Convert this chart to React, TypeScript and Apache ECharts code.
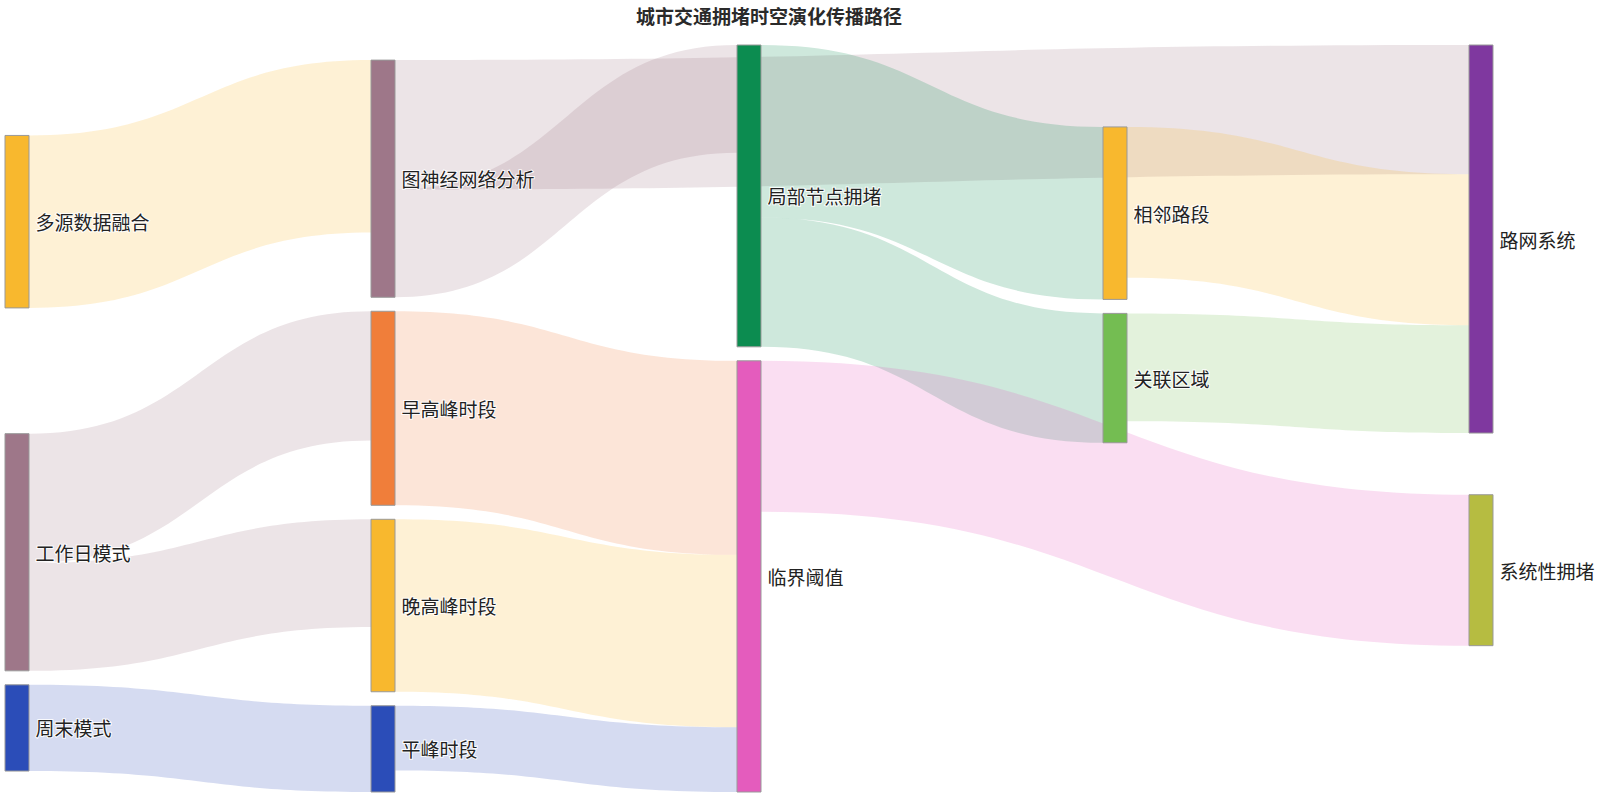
import React, { useEffect, useRef } from "react";
import * as echarts from "echarts";

const titleText = "城市交通拥堵时空演化传播路径";

const nodeNames = [
  "多源数据融合",
  "工作日模式",
  "周末模式",
  "图神经网络分析",
  "早高峰时段",
  "晚高峰时段",
  "平峰时段",
  "局部节点拥堵",
  "临界阈值",
  "相邻路段",
  "关联区域",
  "路网系统",
  "系统性拥堵",
];

const nodeColors = [
  "#F8B82E",
  "#9E7789",
  "#2B4DB8",
  "#9E7789",
  "#F07E3A",
  "#F8B82E",
  "#2B4DB8",
  "#0C8C50",
  "#E45CBD",
  "#F8B82E",
  "#74BD52",
  "#7F389F",
  "#B6BC41",
];

const linkSources = [
  "多源数据融合",
  "图神经网络分析",
  "图神经网络分析",
  "工作日模式",
  "工作日模式",
  "周末模式",
  "早高峰时段",
  "晚高峰时段",
  "平峰时段",
  "局部节点拥堵",
  "局部节点拥堵",
  "相邻路段",
  "关联区域",
  "临界阈值",
];

const linkTargets = [
  "图神经网络分析",
  "路网系统",
  "局部节点拥堵",
  "早高峰时段",
  "晚高峰时段",
  "平峰时段",
  "临界阈值",
  "临界阈值",
  "临界阈值",
  "相邻路段",
  "关联区域",
  "路网系统",
  "路网系统",
  "系统性拥堵",
];

const linkValues = [40, 30, 25, 30, 25, 20, 45, 40, 15, 40, 30, 35, 25, 35];

export default function App() {
  const ref = useRef<HTMLDivElement>(null);

  useEffect(() => {
    if (!ref.current) return;
    const chart = echarts.init(ref.current, null, { renderer: "svg" });
    const data = nodeNames.map((name, i) => ({
      name,
      itemStyle: { color: nodeColors[i] },
    }));
    const links = linkSources.map((s, i) => ({
      source: s,
      target: linkTargets[i],
      value: linkValues[i],
    }));
    chart.setOption({
      animation: false,
      title: {
        text: titleText,
        left: 631,
        top: 1,
        textStyle: {
          fontFamily: "Noto Sans CJK SC",
          fontSize: 19,
          fontWeight: "bold",
          color: "#2a2a2a",
        },
      },
      series: [
        {
          type: "sankey",
          left: 5,
          right: 107,
          top: 45,
          bottom: 6,
          nodeWidth: 24,
          nodeGap: 14,
          nodeAlign: "justify",
          layoutIterations: 32,
          draggable: false,
          emphasis: { disabled: true },
          data,
          links,
          itemStyle: {
            borderColor: "#999",
            borderWidth: 1,
          },
          lineStyle: {
            color: "source",
            opacity: 0.2,
            curveness: 0.5,
          },
          label: {
            show: true,
            position: "right",
            distance: 6,
            fontFamily: "Noto Sans CJK SC",
            fontSize: 19,
            color: "#222",
            textBorderColor: "rgba(255,255,255,0.9)",
            textBorderWidth: 2,
          },
        },
      ],
    });
    return () => chart.dispose();
  }, []);

  return (
    <div
      ref={ref}
      style={{
        position: "fixed",
        left: 0,
        top: 0,
        width: 1600,
        height: 798,
        background: "#fff",
      }}
    />
  );
}
